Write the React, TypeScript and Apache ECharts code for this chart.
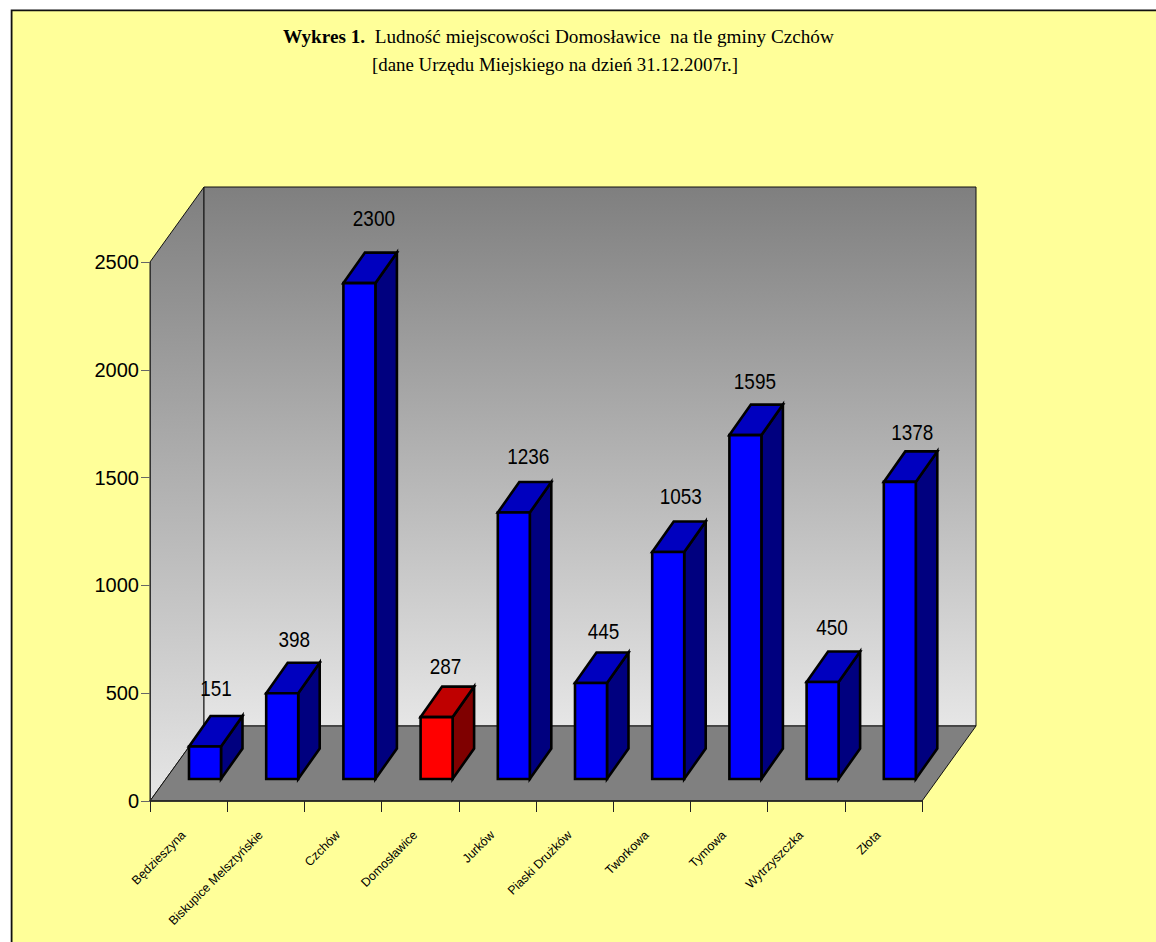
import React, { useEffect, useRef } from "react";
import * as echarts from "echarts";

const categories = ["Będzieszyna", "Biskupice Melsztyńskie", "Czchów", "Domosławice", "Jurków", "Piaski Drużków", "Tworkowa", "Tymowa", "Wytrzyszczka", "Złota"];
const values = [151, 398, 2300, 287, 1236, 445, 1053, 1595, 450, 1378];
const highlighted = "Domosławice";
const yTicksMax = 2500;
const yTicksStep = 500;
const titleBold = "Wykres 1.";
const titleRest = "  Ludność miejscowości Domosławice  na tle gminy Czchów";
const subtitle = "[dane Urzędu Miejskiego na dzień 31.12.2007r.]";

// layout of the pseudo-3D box
const WALL_DX = 54;
const WALL_DY = 75;
const BAR_INSET_DX = 16;
const BAR_INSET_DY = 22;
const BAR_W = 32;
const BAR_DX = 21.5;
const BAR_DY = 30.5;
const labelNudgeX = [11, 12, 14.5, 9, 14.5, 12.5, 12.5, 9.5, 9.5, 12.5];
const labelNudgeY = [-58, -54, -65, -51, -56, -51, -55, -54, -54, -49];

const SANS = '"Liberation Sans", Arial, sans-serif';
const SERIF = '"Liberation Serif", "Times New Roman", serif';

const wallGradient = () =>
  new echarts.graphic.LinearGradient(0, 0, 0, 1, [
    { offset: 0, color: "#7f7f7f" },
    { offset: 1, color: "#e6e6e6" },
  ]);

function renderWalls(params: any) {
  const { x, y, width, height } = params.coordSys;
  const b = y + height;
  const r = x + width;
  const line = { stroke: "#111", lineWidth: 1 };
  return {
    type: "group",
    children: [
      {
        type: "polygon",
        shape: { points: [[x, y], [x + WALL_DX, y - WALL_DY], [x + WALL_DX, b - WALL_DY], [x, b]] },
        style: { fill: wallGradient(), ...line },
      },
      {
        type: "rect",
        shape: { x: x + WALL_DX, y: y - WALL_DY, width, height },
        style: { fill: wallGradient(), ...line },
      },
      {
        type: "polygon",
        shape: { points: [[x, b], [x + WALL_DX, b - WALL_DY], [r + WALL_DX, b - WALL_DY], [r, b]] },
        style: { fill: "#808080", ...line },
      },
    ],
  };
}

function renderBar(params: any, api: any) {
  const i = api.value(0);
  const v = api.value(1);
  const top = api.coord([i, v]);
  const base = api.coord([i, 0]);
  const isRed = categories[i] === highlighted;
  const l = top[0] - BAR_W / 2 + BAR_INSET_DX + 0.4;
  const r = l + BAR_W;
  const t = top[1] - BAR_INSET_DY;
  const bt = base[1] - BAR_INSET_DY;
  const edge = { stroke: "#000", lineWidth: 2.6, lineJoin: "miter" };
  return {
    type: "group",
    children: [
      {
        type: "polygon",
        shape: { points: [[r, t], [r + BAR_DX, t - BAR_DY], [r + BAR_DX, bt - BAR_DY], [r, bt]] },
        style: { fill: isRed ? "#7f0000" : "#00007f", ...edge },
      },
      {
        type: "polygon",
        shape: { points: [[l, t], [l + BAR_DX, t - BAR_DY], [r + BAR_DX, t - BAR_DY], [r, t]] },
        style: { fill: isRed ? "#bf0000" : "#0000bf", ...edge },
      },
      {
        type: "rect",
        shape: { x: l, y: t, width: BAR_W, height: bt - t },
        style: { fill: isRed ? "#ff0000" : "#0000ff", ...edge },
      },
      {
        type: "text",
        x: (l + r) / 2 + labelNudgeX[i],
        y: t + labelNudgeY[i],
        scaleX: 0.88,
        style: {
          text: String(v),
          fill: "#000",
          font: `21.5px ${SANS}`,
          align: "center",
          verticalAlign: "middle",
        },
      },
    ],
  };
}

export default function App() {
  const ref = useRef<HTMLDivElement>(null);
  useEffect(() => {
    const chart = echarts.init(ref.current!, null, { renderer: "svg" });
    chart.setOption({
      animation: false,
      backgroundColor: "#ffffff",
      graphic: [
        {
          type: "rect",
          z: -10,
          silent: true,
          shape: { x: 11.6, y: 10.4, width: 1300, height: 1100 },
          style: { fill: "#ffff99", stroke: "#111", lineWidth: 1.8 },
        },
        {
          type: "text",
          silent: true,
          x: 283,
          y: 36,
          scaleX: 0.985,
          style: {
            text: `{b|${titleBold}}{r|${titleRest}}`,
            align: "left",
            verticalAlign: "middle",
            rich: {
              b: { font: `bold 19.5px ${SERIF}`, fill: "#000" },
              r: { font: `19.5px ${SERIF}`, fill: "#000" },
            },
          },
        },
        {
          type: "text",
          silent: true,
          x: 555,
          y: 64,
          scaleX: 0.97,
          style: {
            text: subtitle,
            align: "center",
            verticalAlign: "middle",
            font: `19.5px ${SERIF}`,
            fill: "#000",
          },
        },
      ],
      grid: { left: 150, top: 262, width: 772, height: 539, containLabel: false },
      xAxis: {
        type: "category",
        data: categories,
        z: 6,
        axisLine: { show: true, lineStyle: { color: "#222", width: 1.5 } },
        axisTick: { show: true, length: 11, lineStyle: { color: "#222", width: 1 } },
        axisLabel: {
          rotate: 45,
          interval: 0,
          margin: 27,
          padding: [0, 7, 0, 0],
          fontFamily: SANS,
          fontSize: 12.4,
          color: "#000",
        },
      },
      yAxis: {
        type: "value",
        min: 0,
        max: yTicksMax,
        interval: yTicksStep,
        z: 6,
        axisLine: { show: true, lineStyle: { color: "#333", width: 1 } },
        axisTick: { show: true, length: 9, lineStyle: { color: "#666", width: 1 } },
        axisLabel: { margin: 11, fontFamily: SANS, fontSize: 20, color: "#000", formatter: (v: number) => String(v) },
        splitLine: { show: false },
      },
      series: [
        {
          type: "custom",
          z: 1,
          silent: true,
          renderItem: renderWalls,
          data: [[0, 0]],
        },
        {
          type: "custom",
          z: 3,
          silent: true,
          renderItem: renderBar,
          encode: { x: 0, y: 1 },
          data: values.map((v, i) => [i, v]),
        },
      ],
    });
    return () => chart.dispose();
  }, []);
  return <div ref={ref} style={{ position: "absolute", left: 0, top: 0, width: 1156, height: 942 }} />;
}
